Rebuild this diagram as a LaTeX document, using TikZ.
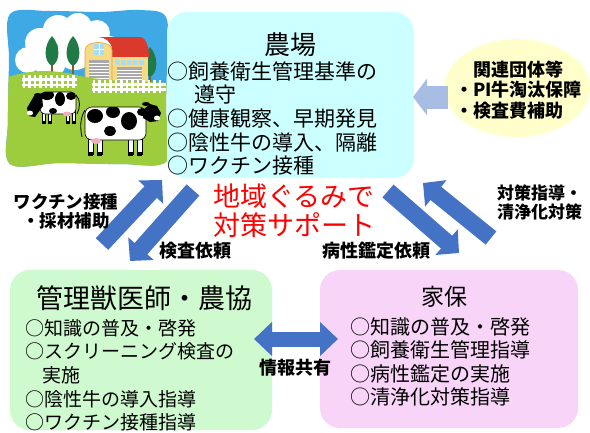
\documentclass[tikz,border=0pt]{standalone}
\usepackage{fontspec}
\newfontfamily\jpfont{Noto Sans CJK JP}
\usetikzlibrary{arrows.meta,shapes.geometric}

\definecolor{skyblue}{HTML}{3FA9E5}
\definecolor{grassgreen}{HTML}{9DCC3C}
\definecolor{treegreen}{HTML}{1F7A45}
\definecolor{trunkbrown}{HTML}{8A5A2C}
\definecolor{roofred}{HTML}{D93A2B}
\definecolor{barnwall}{HTML}{F6DA84}
\definecolor{barnedge}{HTML}{E0A040}
\definecolor{doorgray}{HTML}{A9A9A9}
\definecolor{glassblue}{HTML}{A8DDF5}
\definecolor{udderpink}{HTML}{F2AFC0}
\definecolor{farmfill}{HTML}{CCFFFF}
\definecolor{vetfill}{HTML}{CFFACF}
\definecolor{kahofill}{HTML}{F9D4F9}
\definecolor{assocfill}{HTML}{FFFFCC}
\definecolor{arrowblue}{HTML}{4472C4}
\definecolor{paleblue}{HTML}{A7BDE3}
\definecolor{slogan}{HTML}{FF0000}

\begin{document}
\begin{tikzpicture}[x=1pt,y=-1pt,
  panel/.style={rounded corners=20pt, inner sep=0pt, outer sep=0pt},
  heading/.style={inner sep=0pt, anchor=base},
  % multi-line blocks are placed by the baseline of their last line
  itemlist/.style={inner sep=0pt, anchor=base west, align=left},
  tag/.style={inner sep=0pt, align=center, anchor=base},
  bigarrow/.style={draw=arrowblue, line width=17pt, line cap=butt,
    -{Triangle[width=33pt,length=16.5pt]}},
  cowline/.style={draw=black, line width=0.6pt},
]
\useasboundingbox (0,0) rectangle (590,432);
\fill[white] (0,0) rectangle (590,432);

% ---------- farm illustration ----------
\begin{scope}
  \path[clip] plot[smooth cycle, tension=0.55] coordinates
    {(10,14) (50,11) (100,12) (140,10) (166,17) (167,60) (166,110) (167,161)
     (120,164) (60,163) (10,164) (8,120) (9,60)};
  \fill[skyblue] (0,0) rectangle (170,170);
  % clouds
  \foreach \cx/\cy/\r in {28/60/13, 40/43/15, 58/30/15, 78/27/14, 97/33/13,
      110/47/11, 50/62/16, 75/52/18, 97/56/12, 122/62/9, 136/58/7}
    \fill[white] (\cx,\cy) circle[radius=\r];
  % trees
  \foreach \tx/\ty/\tb in {52/36/78, 73/36/78, 150/47/82}{
    \fill[trunkbrown] (\tx-1.3,\ty+18) rectangle (\tx+1.3,\tb);
    \fill[treegreen] (\tx,\ty) .. controls (\tx+9,\ty+10) and (\tx+8,\ty+26) .. (\tx,\ty+30)
       .. controls (\tx-8,\ty+26) and (\tx-9,\ty+10) .. (\tx,\ty);
  }
  % barn
  \fill[roofred] (98,37) -- (140,37) .. controls (147,38) and (149,48) .. (149,58)
     -- (112,58) -- (112,50) .. controls (112,42) and (105,37) .. (98,37) -- cycle;
  \fill[barnwall] (112,57) rectangle (148,84);
  \foreach \wx in {115,121,127,133,139}
    \fill[glassblue] (\wx,60) rectangle (\wx+4.5,65);
  \fill[doorgray] (117,67) rectangle (142,84);
  \foreach \ly in {70,73,76,79,82}
    \draw[white, line width=0.4pt] (117,\ly) -- (142,\ly);
  \filldraw[fill=barnwall, draw=barnedge, line width=0.6pt]
     (85,84) -- (85,50) .. controls (85,40) and (112,40) .. (112,50) -- (112,84) -- cycle;
  \fill[glassblue] (94,44) rectangle (104,55);
  \draw[white, line width=0.6pt] (99,44) -- (99,55) (94,49.5) -- (104,49.5);
  \fill[doorgray] (89,60) rectangle (109,84);
  \foreach \ly in {63,66,69,72,75,78,81}
    \draw[white, line width=0.4pt] (89,\ly) -- (109,\ly);
  % grass
  \fill[grassgreen] (0,80) .. controls (25,70) and (50,68) .. (80,76)
     .. controls (110,82) and (140,81) .. (170,83) -- (170,170) -- (0,170) -- cycle;
  % fences
  \foreach \px in {24,29.5,...,75}
    \fill[white] (\px-1.3,75) rectangle (\px+1.3,88);
  \fill[white] (22,78) rectangle (77,80.5);
  \fill[white] (22,83.5) rectangle (77,86);
  \foreach \px in {94,99.5,...,164}
    \fill[white] (\px-1.3,80) rectangle (\px+1.3,93);
  \fill[white] (92,83) rectangle (166,85.5);
  \fill[white] (92,88) rectangle (166,90.5);
  % cow facing left
  \draw[line width=0.8pt] (76,95) .. controls (81,100) and (80,108) .. (77,114);
  \foreach \lx in {42,48,66,72}{
    \filldraw[fill=white, cowline, line width=0.5pt] (\lx,110) rectangle (\lx+3.5,123);
    \fill[black] (\lx,121) rectangle (\lx+3.5,124);
  }
  \filldraw[fill=white, cowline, rounded corners=5pt] (40,92) rectangle (76,114);
  \begin{scope}
    \clip[rounded corners=5pt] (40,92) rectangle (76,114);
    \fill (47,95) ellipse (7 and 5);
    \fill (60,99) ellipse (5 and 7);
    \fill (71,96) ellipse (5 and 4);
    \fill (53,111) ellipse (4 and 3);
  \end{scope}
  \fill[udderpink] (67,114) ellipse (4 and 2.5);
  \fill[black] (42,96) -- (34,96) -- (27,108) -- (29,116) -- (35,117) -- (43,106) -- cycle;
  \fill[white] (30,113) ellipse (3 and 2.5);
  \fill[black] (38,95) ellipse (4 and 2);
  % cow facing right
  \draw[line width=0.8pt] (85,110) .. controls (80,118) and (80,128) .. (82,137);
  \foreach \lx in {88,97,128,137}{
    \filldraw[fill=white, cowline, line width=0.5pt] (\lx,136) rectangle (\lx+5,154);
    \fill[black] (\lx,152) rectangle (\lx+5,155.5);
  }
  \filldraw[fill=white, cowline, rounded corners=7pt] (85,107) rectangle (146,140);
  \begin{scope}
    \clip[rounded corners=7pt] (85,107) rectangle (146,140);
    \fill (95,116) ellipse (8 and 7);
    \fill (113,112) ellipse (7 and 6);
    \fill (129,121) ellipse (8 and 9);
    \fill (110,131) ellipse (6 and 5);
    \fill (142,112) ellipse (5 and 4);
  \end{scope}
  \fill[udderpink] (96,141) ellipse (5 and 3);
  \fill[black] (143,110) -- (150,104) -- (157,106) -- (161,113) -- (158,121)
     -- (150,122) -- (143,118) -- cycle;
  \fill[white] (157,118) ellipse (3 and 2.5);
  \fill[black] (146,104) ellipse (4 and 2);
\end{scope}

% ---------- panels ----------
\node[panel, fill=farmfill, minimum width=247pt, minimum height=166pt] (farm) at (290.5,95) {};
\node[panel, fill=vetfill, minimum width=262pt, minimum height=160pt] (vet) at (141,350) {};
\node[panel, fill=kahofill, minimum width=258pt, minimum height=158pt] (kaho) at (449,349) {};
\node[ellipse, fill=assocfill, inner sep=0pt, minimum width=146pt, minimum height=98pt] (assoc) at (517,88) {};

% ---------- connectors ----------
\coordinate (assocout) at (448,97);
\coordinate (farmin) at (413,97);
\draw[draw=paleblue, line width=23pt, line cap=butt, -{Triangle[width=36pt,length=14pt]}]
  (assocout) -- (farmin);

\coordinate (vetup) at (102,244);   \coordinate (farmlow) at (162,180);
\coordinate (farmdown) at (193,190); \coordinate (vetin) at (130,261);
\coordinate (farmright) at (388,191); \coordinate (kahoin) at (459,253);
\coordinate (kahoup) at (491,238);  \coordinate (farmrin) at (423,183);
\draw[bigarrow] (vetup) -- (farmlow);
\draw[bigarrow] (farmdown) -- (vetin);
\draw[bigarrow] (farmright) -- (kahoin);
\draw[bigarrow] (kahoup) -- (farmrin);

\coordinate (vetside) at (254,339); \coordinate (kahoside) at (338,339);
\draw[draw=arrowblue, line width=15pt, line cap=butt,
  {Triangle[width=33pt,length=18pt]}-{Triangle[width=33pt,length=18pt]}]
  (vetside) -- (kahoside);

% ---------- texts ----------
\node[heading, font=\jpfont\fontsize{26}{28}\selectfont] (farmtitle) at (290,54) {農場};
\node[itemlist, font=\jpfont\fontsize{21}{23.7}\selectfont] (farmitems) at (167,173.8)
  {○飼養衛生管理基準の\\\hspace*{27pt}遵守\\○健康観察、早期発見\\○陰性牛の導入、隔離\\○ワクチン接種};

\node[heading, font=\jpfont\fontsize{27}{29}\selectfont] (vettitle) at (145,308) {管理獣医師・農協};
\node[itemlist, font=\jpfont\fontsize{19}{23.6}\selectfont] (vetitems) at (25,429.6)
  {○知識の普及・啓発\\○スクリーニング検査の\\\hspace*{17pt}実施\\○陰性牛の導入指導\\○ワクチン接種指導};

\node[heading, font=\jpfont\fontsize{23}{25}\selectfont] (kahotitle) at (444,305.7) {家保};
\node[itemlist, font=\jpfont\fontsize{20}{23.5}\selectfont] (kahoitems) at (350,404.5)
  {○知識の普及・啓発\\○飼養衛生管理指導\\○病性鑑定の実施\\○清浄化対策指導};

\node[itemlist, font=\jpfont\bfseries\fontsize{18}{20.5}\selectfont] (assoctext) at (455,117.3)
  {\hspace*{18pt}関連団体等\\・PI牛淘汰保障\\・検査費補助};

\node[itemlist, text=slogan, font=\jpfont\fontsize{27}{29}\selectfont] (slogantext) at (213,235.3)
  {地域ぐるみで\\対策サポート};

\node[tag, font=\jpfont\bfseries\fontsize{17.5}{19}\selectfont] (vaccinetag) at (66,227.6)
  {ワクチン接種\\・採材補助};
\node[tag, font=\jpfont\bfseries\fontsize{18}{20}\selectfont] (testtag) at (195,257.8) {検査依頼};
\node[tag, font=\jpfont\bfseries\fontsize{18}{20}\selectfont] (diagtag) at (376,257.8) {病性鑑定依頼};
\node[itemlist, font=\jpfont\bfseries\fontsize{17}{19}\selectfont] (guidetag) at (497,218.5)
  {対策指導・\\清浄化対策};
\node[tag, font=\jpfont\bfseries\fontsize{18}{20}\selectfont] (sharetag) at (295,374.5) {情報共有};
\end{tikzpicture}
\end{document}
